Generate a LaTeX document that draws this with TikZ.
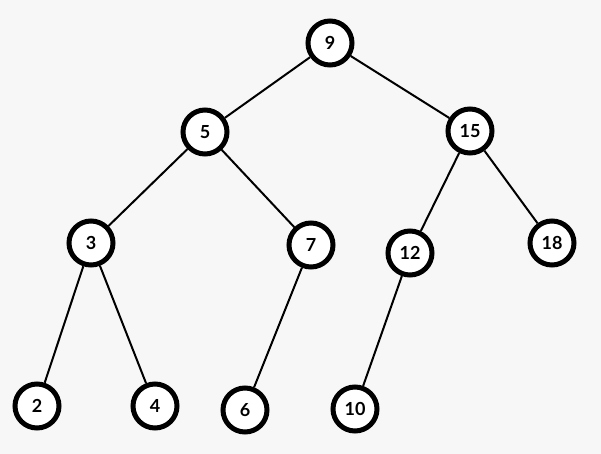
\documentclass[tikz,border=0pt]{standalone}
\usepackage{fontspec}
\setmainfont{Lato}
\usepackage{tikz}

\tikzset{
    treenode/.style={circle, draw=black, fill=white, line width=3.75pt, minimum size=33pt, inner sep=0pt, font=\bfseries\fontsize{13.5}{15}\selectfont},
    treeedge/.style={line width=1.5pt}
}

\begin{document}
\begin{tikzpicture}[x=0.75pt, y=-0.75pt]
        \fill[black!3] (0,0) rectangle (601,454);
        \useasboundingbox (0,0) rectangle (601,454);

        \node[treenode] (n9) at (330,43) {9};
        \node[treenode] (n5) at (205,132) {5};
        \node[treenode] (n15) at (470,131) {15};
        \node[treenode] (n3) at (91,243) {3};
        \node[treenode] (n7) at (311,245) {7};
        \node[treenode] (n12) at (410,253) {12};
        \node[treenode] (n18) at (552,243) {18};
        \node[treenode] (n2) at (37,406) {2};
        \node[treenode] (n4) at (155,406) {4};
        \node[treenode] (n6) at (245,410) {6};
        \node[treenode] (n10) at (355,409) {10};

        \draw[treeedge] (n9) -- (n5);
        \draw[treeedge] (n9) -- (n15);
        \draw[treeedge] (n5) -- (n3);
        \draw[treeedge] (n5) -- (n7);
        \draw[treeedge] (n15) -- (n12);
        \draw[treeedge] (n15) -- (n18);
        \draw[treeedge] (n3) -- (n2);
        \draw[treeedge] (n3) -- (n4);
        \draw[treeedge] (n7) -- (n6);
        \draw[treeedge] (n12) -- (n10);
\end{tikzpicture}
\end{document}
